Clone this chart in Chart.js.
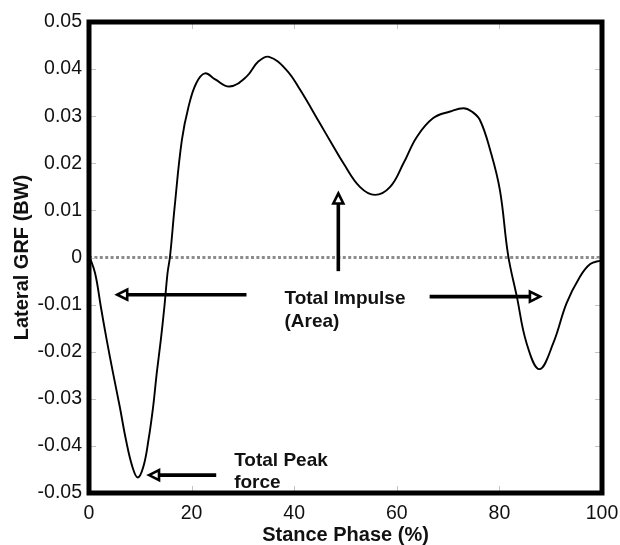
<!DOCTYPE html>
<html>
<head>
<meta charset="utf-8">
<script src="https://cdn.jsdelivr.net/npm/chart.js@4/dist/chart.umd.min.js"></script>
<style>
html,body{margin:0;padding:0;background:#fff;}
#wrap{width:620px;height:545px;}
</style>
</head>
<body>
<div id="wrap"><canvas id="c" width="620" height="545"></canvas></div>
<script>
// ---- data ----
const stancePhase = [0, 1.2, 2.3, 3.45, 4.7, 6.0, 7.2, 8.45, 9.5, 10.6, 11.6, 12.5, 13.2, 14.0, 14.7, 15.3, 15.8,
  16.7, 18.1, 19.4, 20.9, 22.6, 24.6, 27.4, 30.7, 33.0, 35.1, 38.5, 41.1, 45.0, 47.3, 49.6, 52.8, 55.75,
  58.7, 61.3, 63.9, 67.1, 70.4, 73.0, 74.6, 76.2, 78.2, 80.1, 81.7, 83.4, 85.3, 87.8, 90.5, 93.1, 95.7, 97.7, 99.6, 100];
const lateralGRF = [0.0005, -0.0034, -0.0104, -0.0175, -0.0246, -0.0317, -0.0387, -0.0444, -0.0467, -0.0444, -0.0387, -0.0317, -0.0246, -0.0175, -0.0104, -0.0034, 0.0003,
  0.0108, 0.0249, 0.0320, 0.0370, 0.0391, 0.0378, 0.0363, 0.0384, 0.0416, 0.0426, 0.0398, 0.0357, 0.0285, 0.0242, 0.0200, 0.0150, 0.0133,
  0.0150, 0.0200, 0.0256, 0.0296, 0.0310, 0.0317, 0.0310, 0.0292, 0.0228, 0.0143, 0.0005, -0.0083, -0.0182, -0.0237, -0.0182, -0.0097, -0.0041, -0.0014, -0.0007, -0.0007];
const zeroLineX = [0, 100];
const zeroLineY = [0, 0];
const xTicks = [0, 20, 40, 60, 80, 100];
const xTickLabels = ['0', '20', '40', '60', '80', '100'];
const yTicks = [-0.05, -0.04, -0.03, -0.02, -0.01, 0, 0.01, 0.02, 0.03, 0.04, 0.05];
const yTickLabels = ['-0.05', '-0.04', '-0.03', '-0.02', '-0.01', '0', '0.01', '0.02', '0.03', '0.04', '0.05'];
const impulseText = ['Total Impulse', '(Area)'];
const peakText = ['Total Peak', 'force'];

// ---- annotation placement (data units) ----
const arrows = [
  {from: [30.7, -0.0079], to: [5.5, -0.0079]},
  {from: [66.4, -0.0083], to: [87.9, -0.0083]},
  {from: [48.6, -0.0029], to: [48.6, 0.0136]},
  {from: [24.8, -0.0462], to: [11.7, -0.0462]}
];
const labels = [
  {lines: impulseText, at: [38.1, -0.0099], lineStep: 22.7},
  {lines: peakText, at: [28.3, -0.0443], lineStep: 22.3}
];

const FAMILY = '"Liberation Sans", Arial, Helvetica, sans-serif';

const overlay = {
  id: 'overlay',
  afterDatasetsDraw(chart) {
    const {ctx, chartArea: a, scales: {x, y}} = chart;
    ctx.save();
    // faint inner tick marks
    ctx.strokeStyle = '#c4c4c4';
    ctx.lineWidth = 1;
    ctx.beginPath();
    xTicks.forEach(v => {
      const px = Math.round(x.getPixelForValue(v)) + 0.5;
      ctx.moveTo(px, a.top); ctx.lineTo(px, a.top + 7);
      ctx.moveTo(px, a.bottom); ctx.lineTo(px, a.bottom - 7);
    });
    yTicks.forEach(v => {
      const py = Math.round(y.getPixelForValue(v)) + 0.5;
      ctx.moveTo(a.left, py); ctx.lineTo(a.left + 7, py);
      ctx.moveTo(a.right, py); ctx.lineTo(a.right - 7, py);
    });
    ctx.stroke();
    // thick frame
    ctx.strokeStyle = '#000';
    ctx.lineWidth = 5;
    ctx.strokeRect(a.left, a.top, a.right - a.left, a.bottom - a.top);
    // arrows
    arrows.forEach(ar => {
      const x1 = x.getPixelForValue(ar.from[0]), y1 = y.getPixelForValue(ar.from[1]);
      const x2 = x.getPixelForValue(ar.to[0]), y2 = y.getPixelForValue(ar.to[1]);
      const ang = Math.atan2(y2 - y1, x2 - x1);
      const hl = 10, hw = 5;
      const bx = x2 - Math.cos(ang) * hl, by = y2 - Math.sin(ang) * hl;
      ctx.strokeStyle = '#000';
      ctx.lineWidth = 3.6;
      ctx.lineCap = 'butt';
      ctx.beginPath();
      ctx.moveTo(x1, y1); ctx.lineTo(bx, by);
      ctx.stroke();
      const nx = -Math.sin(ang), ny = Math.cos(ang);
      ctx.beginPath();
      ctx.moveTo(x2, y2);
      ctx.lineTo(bx + nx * hw, by + ny * hw);
      ctx.lineTo(bx - nx * hw, by - ny * hw);
      ctx.closePath();
      ctx.fillStyle = '#fff';
      ctx.fill();
      ctx.lineWidth = 2.6;
      ctx.lineJoin = 'miter';
      ctx.stroke();
    });
    // texts
    ctx.fillStyle = '#111';
    ctx.font = 'bold 19px ' + FAMILY;
    ctx.textAlign = 'left';
    ctx.textBaseline = 'alphabetic';
    labels.forEach(lb => {
      const px = x.getPixelForValue(lb.at[0]);
      const py = y.getPixelForValue(lb.at[1]);
      lb.lines.forEach((t, i) => ctx.fillText(t, px, py + i * lb.lineStep));
    });
    ctx.restore();
  }
};

new Chart(document.getElementById('c'), {
  type: 'line',
  data: {
    datasets: [
      {
        data: stancePhase.map((v, i) => ({x: v, y: lateralGRF[i]})),
        borderColor: '#000',
        borderWidth: 1.9,
        pointRadius: 0,
        fill: false,
        tension: 0.4,
        order: 1
      },
      {
        data: zeroLineX.map((v, i) => ({x: v, y: zeroLineY[i]})),
        borderColor: '#8c8c8c',
        borderWidth: 3,
        borderDash: [3, 2.4],
        pointRadius: 0,
        fill: false,
        order: 2
      }
    ]
  },
  options: {
    responsive: false,
    animation: false,
    devicePixelRatio: 1,
    layout: {padding: {top: 22, right: 18, bottom: 0, left: 0}},
    plugins: {legend: {display: false}, tooltip: {enabled: false}},
    scales: {
      x: {
        type: 'linear', min: 0, max: 100,
        afterBuildTicks: s => { s.ticks = xTicks.map(v => ({value: v})); },
        afterFit: s => { s.height = 52; s.paddingLeft = 0; s.paddingRight = 0; },
        grid: {display: false, drawTicks: false},
        border: {display: false},
        ticks: {padding: 9, autoSkip: false, maxRotation: 0, color: '#111',
          font: {family: FAMILY, size: 19.5},
          callback: (v, i) => xTickLabels[i]},
        title: {display: true, text: 'Stance Phase (%)', color: '#111',
          font: {family: FAMILY, size: 20, weight: 'bold', lineHeight: 1},
          padding: {top: 0, bottom: 0}}
      },
      y: {
        type: 'linear', min: -0.05, max: 0.05,
        afterBuildTicks: s => { s.ticks = yTicks.map(v => ({value: v})); },
        afterFit: s => { s.width = 89; s.paddingTop = 0; s.paddingBottom = 0; },
        grid: {display: false, drawTicks: false},
        border: {display: false},
        ticks: {padding: 7, autoSkip: false, color: '#111',
          font: {family: FAMILY, size: 19.5},
          callback: (v, i) => yTickLabels[i]},
        title: {display: true, text: 'Lateral GRF (BW)', color: '#111',
          font: {family: FAMILY, size: 20, weight: 'bold', lineHeight: 1.2},
          padding: {top: 10.5, bottom: 0}}
      }
    }
  },
  plugins: [overlay]
});
</script>
</body>
</html>
